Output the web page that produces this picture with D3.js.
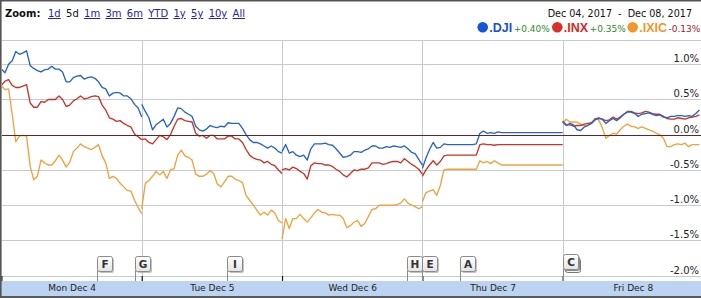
<!DOCTYPE html>
<html><head><meta charset="utf-8">
<script src="https://cdn.jsdelivr.net/npm/d3@7"></script>
<style>
html,body{margin:0;padding:0;background:#fff;overflow:hidden}
svg{display:block}
</style></head>
<body>
<svg id="c" width="701" height="298"></svg>
<script>
// ---------------- DATA ----------------
const days = ["Mon Dec 4", "Tue Dec 5", "Wed Dec 6", "Thu Dec 7", "Fri Dec 8"];
const sessionTimes = ["09:30","09:40","09:50","10:00","10:10","10:20","10:30","10:40","10:50","11:00",
  "11:10","11:20","11:30","11:40","11:50","12:00","12:10","12:20","12:30","12:40",
  "12:50","13:00","13:10","13:20","13:30","13:40","13:50","14:00","14:10","14:20",
  "14:30","14:40","14:50","15:00","15:10","15:20","15:30","15:40","15:50","16:00"];
const yTicks = [1.0, 0.5, 0.0, -0.5, -1.0, -1.5, -2.0];
const zoomOptions = ["1d", "5d", "1m", "3m", "6m", "YTD", "1y", "5y", "10y", "All"];
const activeZoom = "5d";
const dateRange = "Dec 04, 2017  -  Dec 08, 2017";

const seriesNames = [".DJI", ".INX", ".IXIC"];
const seriesChange = ["+0.40%", "+0.35%", "-0.13%"];

// % change, one array per trading day (10-minute samples)
const dji = [
  [0.93,0.88,1.00,1.05,1.18,1.14,1.16,1.19,0.98,0.94,0.91,0.89,0.92,0.93,0.97,0.93,0.93,0.89,0.75,0.75,
   0.81,0.83,0.84,0.79,0.81,0.82,0.80,0.75,0.67,0.65,0.55,0.59,0.60,0.59,0.55,0.55,0.51,0.43,0.38,0.25],
  [0.43,0.33,0.24,0.07,0.14,0.18,0.22,0.11,0.16,0.26,0.38,0.37,0.32,0.29,0.26,0.12,0.07,0.05,0.08,0.13,
   0.11,0.10,0.12,0.11,0.17,0.16,0.16,0.16,0.09,0.00,-0.07,-0.11,-0.11,-0.13,-0.16,-0.19,-0.16,-0.19,-0.24,-0.26],
  [-0.24,-0.14,-0.26,-0.24,-0.29,-0.31,-0.29,-0.36,-0.20,-0.13,-0.13,-0.13,-0.12,-0.14,-0.15,-0.20,-0.26,-0.32,-0.31,-0.29,
   -0.24,-0.24,-0.25,-0.22,-0.20,-0.16,-0.16,-0.19,-0.19,-0.17,-0.18,-0.16,-0.17,-0.18,-0.16,-0.20,-0.25,-0.27,-0.35,-0.43],
  [-0.48,-0.33,-0.21,-0.11,-0.19,-0.18,-0.13,-0.14,-0.14,-0.14,-0.14,-0.14,-0.14,-0.14,-0.14,-0.13,0.02,0.05,0.02,0.03,
   0.02,0.04,0.03,0.03,0.03,0.03,0.03,0.03,0.03,0.03,0.03,0.03,0.03,0.03,0.03,0.03,0.03,0.03,0.03,0.03],
  [0.18,0.13,0.16,0.14,0.07,0.06,0.11,0.13,0.16,0.21,0.23,0.22,0.16,0.20,0.23,0.20,0.24,0.29,0.32,0.32,
   0.30,0.26,0.29,0.30,0.31,0.29,0.27,0.28,0.25,0.24,0.26,0.26,0.27,0.27,0.26,0.27,0.26,0.30,0.35]
];
const inx = [
  [0.70,0.76,0.78,0.70,0.67,0.67,0.69,0.71,0.45,0.39,0.39,0.47,0.46,0.50,0.50,0.50,0.55,0.50,0.40,0.42,
   0.48,0.51,0.55,0.51,0.52,0.54,0.55,0.54,0.42,0.35,0.24,0.22,0.19,0.20,0.16,0.13,0.11,0.01,-0.03,-0.07],
  [-0.07,-0.06,-0.11,-0.13,-0.07,-0.01,-0.03,-0.07,0.00,0.12,0.22,0.23,0.20,0.19,0.18,0.02,-0.02,-0.01,-0.05,-0.01,
   -0.01,-0.06,-0.06,-0.06,-0.02,-0.02,-0.06,-0.06,-0.11,-0.21,-0.29,-0.33,-0.35,-0.36,-0.40,-0.38,-0.42,-0.44,-0.50,-0.55],
  [-0.50,-0.48,-0.50,-0.46,-0.48,-0.52,-0.55,-0.63,-0.44,-0.40,-0.41,-0.41,-0.43,-0.43,-0.45,-0.49,-0.52,-0.57,-0.60,-0.55,
   -0.50,-0.51,-0.49,-0.49,-0.47,-0.40,-0.40,-0.40,-0.42,-0.41,-0.39,-0.38,-0.38,-0.40,-0.34,-0.38,-0.42,-0.45,-0.49,-0.56],
  [-0.59,-0.50,-0.43,-0.37,-0.43,-0.38,-0.30,-0.29,-0.29,-0.29,-0.29,-0.29,-0.29,-0.29,-0.29,-0.29,-0.14,-0.13,-0.14,-0.14,
   -0.15,-0.14,-0.14,-0.14,-0.14,-0.14,-0.14,-0.14,-0.14,-0.14,-0.14,-0.14,-0.14,-0.14,-0.14,-0.14,-0.14,-0.14,-0.14,-0.14],
  [0.19,0.14,0.14,0.12,0.13,0.13,0.15,0.16,0.17,0.22,0.24,0.22,0.20,0.21,0.25,0.22,0.25,0.29,0.33,0.33,
   0.31,0.30,0.31,0.33,0.32,0.30,0.29,0.29,0.26,0.23,0.22,0.22,0.24,0.23,0.22,0.24,0.25,0.26,0.28]
];
const ixic = [
  [0.69,0.64,0.65,0.29,-0.10,-0.02,-0.01,-0.02,-0.45,-0.64,-0.59,-0.36,-0.40,-0.43,-0.43,-0.37,-0.29,-0.36,-0.46,-0.39,
   -0.24,-0.19,-0.13,-0.17,-0.19,-0.21,-0.18,-0.14,-0.30,-0.40,-0.62,-0.59,-0.62,-0.69,-0.74,-0.79,-0.80,-0.93,-1.03,-1.12],
  [-1.05,-0.69,-0.65,-0.59,-0.52,-0.57,-0.52,-0.62,-0.50,-0.48,-0.29,-0.22,-0.30,-0.32,-0.36,-0.56,-0.59,-0.59,-0.56,-0.51,
   -0.55,-0.70,-0.74,-0.67,-0.59,-0.59,-0.63,-0.65,-0.68,-0.86,-0.93,-1.00,-1.07,-1.14,-1.10,-1.14,-1.07,-1.11,-1.22,-1.25],
  [-1.48,-1.19,-1.33,-1.19,-1.19,-1.13,-1.19,-1.24,-1.18,-1.11,-1.06,-1.10,-1.11,-1.14,-1.13,-1.14,-1.14,-1.19,-1.32,-1.29,
   -1.24,-1.22,-1.30,-1.26,-1.16,-1.06,-1.05,-1.00,-1.00,-1.00,-1.00,-1.00,-0.99,-0.97,-0.91,-0.97,-1.00,-1.02,-1.05,-1.02],
  [-0.95,-0.82,-0.80,-0.78,-0.86,-0.72,-0.50,-0.49,-0.49,-0.49,-0.49,-0.49,-0.49,-0.49,-0.49,-0.49,-0.37,-0.40,-0.38,-0.41,
   -0.37,-0.40,-0.43,-0.43,-0.43,-0.43,-0.43,-0.43,-0.43,-0.43,-0.43,-0.43,-0.43,-0.43,-0.43,-0.43,-0.43,-0.43,-0.43,-0.43],
  [0.17,0.22,0.18,0.18,0.18,0.15,0.13,0.14,0.16,0.23,0.21,0.10,-0.05,-0.01,0.02,0.01,0.07,0.12,0.15,0.12,
   0.11,0.09,0.11,0.09,0.07,0.05,0.02,0.00,-0.05,-0.17,-0.17,-0.14,-0.13,-0.14,-0.12,-0.17,-0.14,-0.14,-0.14]
];
// event flags: letter, day index, time
const flagLetters = ["F", "G", "I", "H", "E", "A", "C"];
const flagDays    = [0, 0, 1, 2, 3, 3, 4];
const flagTimes   = ["13:55", "15:42", "13:26", "15:17", "09:30", "11:16", "09:30"];

// ---------------- CHART ----------------
const W = 701, H = 298;
const lineColors = ["#2563c9", "#cc3324", "#f2a23a"];
const dotColors  = ["#1452d9", "#d9302a", "#f5962a"];
const nameColors = ["#1c4fd0", "#d42a22", "#f5962a"];
const changeColors = ["#2e8a2e", "#2e8a2e", "#a3162a"];

const svg = d3.select("#c");
const minutes = s => { const [h, m] = s.split(":").map(Number); return h * 60 + m - 570; };
const dayPos = (d, t) => d + minutes(t) / 390;

const x = d3.scaleLinear().domain([0, 5]).range([1.4, 703]);
const y = d3.scaleLinear().domain([1.0, -2.0]).range([64.2, 275.7]);
const plotTop = 40, plotBottom = 281;

svg.append("rect").attr("x", 0).attr("y", 0).attr("width", W).attr("height", H).attr("fill", "#fff");

// plot top border
svg.append("line").attr("x1", 2).attr("x2", W).attr("y1", plotTop + 0.5).attr("y2", plotTop + 0.5)
  .attr("stroke", "#c9c9d4").attr("stroke-width", 1);

// horizontal grid
svg.append("g").selectAll("line").data(yTicks.filter(v => v !== 0)).join("line")
  .attr("x1", 2).attr("x2", W)
  .attr("y1", d => Math.round(y(d)) + 0.5).attr("y2", d => Math.round(y(d)) + 0.5)
  .attr("stroke", "#c8c8da").attr("stroke-width", 1);

// vertical day grid
svg.append("g").selectAll("line").data([1, 2, 3, 4]).join("line")
  .attr("x1", d => Math.round(x(d)) + 0.5).attr("x2", d => Math.round(x(d)) + 0.5)
  .attr("y1", plotTop).attr("y2", plotBottom)
  .attr("stroke", "#c8c8d4").attr("stroke-width", 1);

// y axis labels (right side)
const yAxis = d3.axisLeft(y).tickValues(yTicks).tickSize(0)
  .tickFormat(d => (d < 0 ? "-" : "") + Math.abs(d).toFixed(1) + "%");
const gy = svg.append("g").attr("transform", "translate(699,0)").call(yAxis);
gy.select(".domain").remove();
gy.selectAll("text").attr("x", 0).attr("dy", "-0.25em").attr("text-anchor", "end")
  .attr("font-family", "DejaVu Sans, Verdana, sans-serif").attr("font-size", 10).attr("fill", "#222");

// series lines (one path per trading session)
svg.append("clipPath").attr("id", "pc").append("rect")
  .attr("x", 2).attr("y", plotTop).attr("width", W - 2).attr("height", plotBottom - plotTop);

const line = d3.line().x(p => x(p.t)).y(p => y(p.v));
const gl = svg.append("g").attr("clip-path", "url(#pc)");
[ixic, inx, dji].forEach((arr, i) => {
  const ci = 2 - i;
  arr.forEach((dayVals, d) => {
    const pts = dayVals.map((v, k) => ({ t: dayPos(d, sessionTimes[k]), v }));
    gl.append("path").attr("d", line(pts)).attr("fill", "none")
      .attr("stroke", lineColors[ci]).attr("stroke-width", 1.35).attr("stroke-linejoin", "round");
  });
});

// zero line
svg.append("line").attr("x1", 2).attr("x2", W)
  .attr("y1", Math.round(y(0)) + 0.5).attr("y2", Math.round(y(0)) + 0.5)
  .attr("stroke", "#5e2727").attr("stroke-width", 1.2);

// bottom band
svg.append("rect").attr("x", 0).attr("y", plotBottom).attr("width", W).attr("height", 15).attr("fill", "#bcd4f1");
svg.append("rect").attr("x", 0).attr("y", 296).attr("width", W).attr("height", 2).attr("fill", "#5a5a5a");

// tick marks at day boundaries
const xTicks = d3.axisTop(x).tickValues([0, 1, 2, 3, 4]).tickSize(5).tickFormat("");
const gxt = svg.append("g").attr("transform", `translate(0,${plotBottom})`).call(xTicks);
gxt.select(".domain").remove();
gxt.selectAll("line").attr("stroke", "#111").attr("stroke-width", 1.2);

// day labels
const xLabels = d3.axisBottom(x).tickValues([0.5, 1.5, 2.5, 3.5, 4.5]).tickSize(0)
  .tickFormat((d, i) => days[i]);
const gxl = svg.append("g").attr("transform", `translate(0,${plotBottom})`).call(xLabels);
gxl.select(".domain").remove();
gxl.selectAll("text").attr("y", 9.7).attr("dy", 0)
  .attr("font-family", "DejaVu Sans, Verdana, sans-serif").attr("font-size", 9).attr("fill", "#222");

// flags
const defs = svg.append("defs");
const grad = defs.append("linearGradient").attr("id", "fg").attr("x1", 0).attr("x2", 0).attr("y1", 0).attr("y2", 1);
grad.append("stop").attr("offset", "0%").attr("stop-color", "#ffffff");
grad.append("stop").attr("offset", "100%").attr("stop-color", "#e4e4e4");

flagLetters.forEach((L, i) => {
  const fx = Math.round(x(dayPos(flagDays[i], flagTimes[i]))) + 0.5;
  const stacked = L === "C";
  const top = stacked ? 254.5 : 256.5;
  const g = svg.append("g");
  g.append("line").attr("x1", fx).attr("x2", fx).attr("y1", top + 14).attr("y2", plotBottom)
    .attr("stroke", "#8a8a8a").attr("stroke-width", 1);
  if (stacked) {
    [4, 2].forEach(off => {
      g.append("rect").attr("x", fx + off * 0.5).attr("y", top + off).attr("width", 15).attr("height", 14)
        .attr("rx", 2).attr("fill", "#f4f4f4").attr("stroke", "#777");
    });
  }
  g.append("rect").attr("x", fx + 1.5).attr("y", top + 1.5).attr("width", 15).attr("height", 15)
    .attr("rx", 2).attr("fill", "#9a9a9a").attr("opacity", 0.6);
  g.append("rect").attr("x", fx).attr("y", top).attr("width", 15).attr("height", 15)
    .attr("rx", 2).attr("fill", "url(#fg)").attr("stroke", "#8a8a8a");
  g.append("text").attr("x", fx + 7.5).attr("y", top + 11.5).attr("text-anchor", "middle")
    .attr("font-family", "DejaVu Sans, Verdana, sans-serif").attr("font-weight", "bold")
    .attr("font-size", 10.5).attr("fill", "#333").text(L);
});

// frame borders (top, left)
svg.append("rect").attr("x", 0).attr("y", 0).attr("width", W).attr("height", 1.5).attr("fill", "#555");
svg.append("rect").attr("x", 0).attr("y", 0).attr("width", 1.6).attr("height", H).attr("fill", "#555");

// zoom controls
const zt = svg.append("g").attr("font-family", "DejaVu Sans, Verdana, sans-serif").attr("font-size", 10);
zt.append("text").attr("x", 5).attr("y", 17).attr("font-weight", "bold").attr("fill", "#111").text("Zoom:");
let zx = 48;
zoomOptions.forEach(o => {
  const isActive = o === activeZoom;
  const t = zt.append("text").attr("x", zx).attr("y", 17)
    .attr("fill", isActive ? "#111" : "#2424a0")
    .attr("text-decoration", isActive ? "none" : "underline").text(o);
  zx += t.node().getComputedTextLength() + 5.3;
});

// date range
svg.append("text").attr("x", 692).attr("y", 16.5).attr("text-anchor", "end")
  .attr("xml:space", "preserve").style("white-space", "pre")
  .attr("font-family", "DejaVu Sans, Verdana, sans-serif").attr("font-size", 9.6).attr("fill", "#111")
  .text(dateRange);

// legend
const legX = [482.7, 557.3, 632.7];
seriesNames.forEach((nm, i) => {
  svg.append("circle").attr("cx", legX[i]).attr("cy", 27.3).attr("r", 5.3).attr("fill", dotColors[i]);
  const t1 = svg.append("text").attr("x", legX[i] + 6.5).attr("y", 31.5)
    .attr("font-family", "Liberation Sans, Arial, sans-serif").attr("font-weight", "bold")
    .attr("font-size", 12.5).attr("fill", nameColors[i]).text(nm);
  const w = t1.node().getComputedTextLength();
  svg.append("text").attr("x", legX[i] + 6.5 + w + 1.5).attr("y", 31.5)
    .attr("font-family", "DejaVu Sans, Verdana, sans-serif")
    .attr("font-size", 9).attr("fill", changeColors[i]).text(seriesChange[i]);
});
</script>
</body></html>
